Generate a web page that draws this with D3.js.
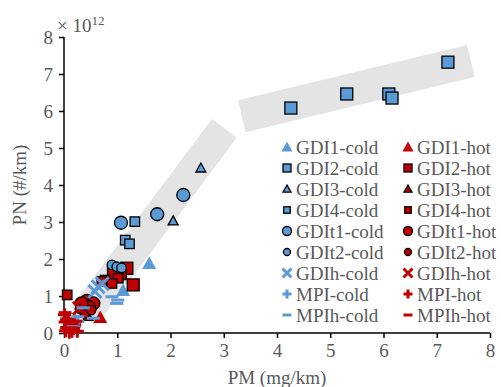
<!DOCTYPE html>
<html>
<head>
<meta charset="utf-8">
<script src="https://cdn.jsdelivr.net/npm/d3@7"></script>
<style>
  body { margin: 0; background: #fff; }
  svg text { font-family: "Liberation Serif", "Times New Roman", serif; fill: #595959; }
</style>
</head>
<body>
<svg id="chart" width="501" height="387"></svg>
<script>
// axis ticks
const xTicks = [0, 1, 2, 3, 4, 5, 6, 7, 8];
const yTicks = [0, 1, 2, 3, 4, 5, 6, 7, 8];

// series values, [PM mg/km, PN x1e12 #/km]
const gdi1Cold = [[1.60, 1.88], [1.11, 1.15]];
const gdi1Hot = [[0.68, 0.42]];
const gdi2Cold = [[4.26, 6.08], [5.31, 6.46], [6.10, 6.46], [6.16, 6.35], [7.21, 7.32]];
const gdi2Hot = [[1.18, 1.75], [1.30, 1.30], [0.93, 1.61]];
const gdi3Cold = [[2.57, 4.46], [2.05, 3.03]];
const gdi3Hot = [[0.45, 0.45]];
const gdi4Cold = [[1.33, 3.01], [1.15, 2.51], [1.23, 2.41]];
const gdi4Hot = [[0.06, 1.03], [1.08, 1.57], [1.02, 1.48], [0.77, 1.43], [0.90, 1.34], [0.71, 1.39]];
const gdit1Cold = [[2.24, 3.73], [1.75, 3.21], [1.07, 2.98]];
const gdit1Hot = [[0.43, 0.87], [0.55, 0.80], [0.46, 0.71], [0.33, 0.80]];
const gdit2Cold = [[0.90, 1.84], [0.99, 1.79], [1.08, 1.76]];
const gdit2Hot = [[0.39, 0.53], [0.51, 0.62], [0.30, 0.65]];
const gdihCold = [[0.64, 1.25], [0.58, 1.12], [0.72, 1.33]];
const gdihHot = [[0.29, 0.67], [0.12, 0.30]];
const mpiCold = [[0.26, 0.31], [0.12, 0.25], [0.05, 0.40], [0.20, 0.18]];
const mpiHot = [[0.01, 0.49], [0.05, 0.15], [0.15, 0.05], [0.20, 0.22], [0.10, 0.02],
  [0.02, 0.30], [0.08, 0.38], [0.18, 0.12], [0.25, 0.05], [0.03, 0.06]];
const mpihCold = [[0.90, 0.98], [1.01, 0.89], [0.99, 0.80], [0.36, 0.68], [0.55, 0.40], [0.26, 0.44], [0.17, 0.22]];
const mpihHot = [[0.05, 0.35], [0.15, 0.25], [0.08, 0.10], [0.02, 0.55], [0.22, 0.32]];

// trend bands (data units)
const band1 = [[0.36, 0.43], [3.01, 5.53]];
const band2 = [[3.34, 5.86], [7.64, 7.35]];

const blue = "#5b9bd5", red = "#c00000";

const series = [
  { name: "GDI1-cold", data: gdi1Cold, shape: "tri", size: 14, legSize: 11, fill: blue, stroke: false },
  { name: "GDI1-hot", data: gdi1Hot, shape: "tri", size: 14, legSize: 11, fill: red, stroke: false },
  { name: "GDI2-cold", data: gdi2Cold, shape: "sq", size: 12, legSize: 8, fill: blue, stroke: true },
  { name: "GDI2-hot", data: gdi2Hot, shape: "sq", size: 12, legSize: 8, fill: red, stroke: true },
  { name: "GDI3-cold", data: gdi3Cold, shape: "tri", size: 10, legSize: 8, fill: blue, stroke: true },
  { name: "GDI3-hot", data: gdi3Hot, shape: "tri", size: 10, legSize: 8, fill: red, stroke: true },
  { name: "GDI4-cold", data: gdi4Cold, shape: "sq", size: 9.5, legSize: 6.5, fill: blue, stroke: true },
  { name: "GDI4-hot", data: gdi4Hot, shape: "sq", size: 9.5, legSize: 6.5, fill: red, stroke: true },
  { name: "GDIt1-cold", data: gdit1Cold, shape: "circ", size: 13, legSize: 9, fill: blue, stroke: true },
  { name: "GDIt1-hot", data: gdit1Hot, shape: "circ", size: 13, legSize: 9, fill: red, stroke: true },
  { name: "GDIt2-cold", data: gdit2Cold, shape: "circ", size: 9.5, legSize: 7, fill: blue, stroke: true },
  { name: "GDIt2-hot", data: gdit2Hot, shape: "circ", size: 9.5, legSize: 7, fill: red, stroke: true },
  { name: "GDIh-cold", data: gdihCold, shape: "x", size: 13, legSize: 9, fill: blue },
  { name: "GDIh-hot", data: gdihHot, shape: "x", size: 13, legSize: 9, fill: red },
  { name: "MPI-cold", data: mpiCold, shape: "plus", size: 13, legSize: 9, fill: blue },
  { name: "MPI-hot", data: mpiHot, shape: "plus", size: 13, legSize: 9, fill: red },
  { name: "MPIh-cold", data: mpihCold, shape: "dash", size: 13, legSize: 9, fill: blue },
  { name: "MPIh-hot", data: mpihHot, shape: "dash", size: 13, legSize: 9, fill: red }
];

const svg = d3.select("#chart");
const x = d3.scaleLinear().domain([0, 8]).range([64, 490]);
const y = d3.scaleLinear().domain([0, 8]).range([333, 37]);

// bands
function bandPath(b, w) {
  const p0 = [x(b[0][0]), y(b[0][1])], p1 = [x(b[1][0]), y(b[1][1])];
  const dx = p1[0] - p0[0], dy = p1[1] - p0[1], len = Math.hypot(dx, dy);
  const nx = -dy / len * w / 2, ny = dx / len * w / 2;
  return "M" + [p0[0] + nx, p0[1] + ny] + "L" + [p1[0] + nx, p1[1] + ny] +
    "L" + [p1[0] - nx, p1[1] - ny] + "L" + [p0[0] - nx, p0[1] - ny] + "Z";
}
svg.append("path").attr("d", bandPath(band1, 31)).attr("fill", "#e4e4e4");
svg.append("path").attr("d", bandPath(band2, 33)).attr("fill", "#e4e4e4");

// axes
const yAxis = svg.append("g").attr("transform", "translate(64,0)")
  .call(d3.axisLeft(y).tickValues(yTicks).tickSize(5).tickPadding(6).tickFormat(d3.format("d")));
const xAxis = svg.append("g").attr("transform", "translate(0,333)")
  .call(d3.axisBottom(x).tickValues(xTicks).tickSize(5).tickPadding(6).tickFormat(d3.format("d")));
[xAxis, yAxis].forEach(a => {
  a.select(".domain").attr("stroke", "#000").attr("stroke-width", 1.5);
  a.selectAll(".tick line").attr("stroke", "#000").attr("stroke-width", 1.5);
  a.selectAll("text").attr("font-size", 19).attr("fill", "#595959")
    .style("font-family", "'Liberation Serif', serif");
});
yAxis.select(".domain").attr("d", "M0,333V37");
xAxis.select(".domain").attr("d", "M64,0H490");

// marker drawing
function marker(g, s, cx, cy, sz) {
  const h = sz / 2;
  const sw = s.stroke ? 1.3 : 0;
  if (s.shape === "tri") {
    g.append("path")
      .attr("d", `M${cx},${cy - h}L${cx + h},${cy + h * 0.8}L${cx - h},${cy + h * 0.8}Z`)
      .attr("fill", s.fill).attr("stroke", s.stroke ? "#000" : "none").attr("stroke-width", sw);
  } else if (s.shape === "sq") {
    g.append("rect").attr("x", cx - h).attr("y", cy - h).attr("width", sz).attr("height", sz)
      .attr("fill", s.fill).attr("stroke", "#000").attr("stroke-width", sw);
  } else if (s.shape === "circ") {
    g.append("circle").attr("cx", cx).attr("cy", cy).attr("r", h)
      .attr("fill", s.fill).attr("stroke", "#000").attr("stroke-width", sw);
  } else if (s.shape === "x") {
    g.append("path").attr("d", `M${cx - h},${cy - h}L${cx + h},${cy + h}M${cx + h},${cy - h}L${cx - h},${cy + h}`)
      .attr("stroke", s.fill).attr("stroke-width", 3).attr("fill", "none");
  } else if (s.shape === "plus") {
    g.append("path").attr("d", `M${cx - h},${cy}H${cx + h}M${cx},${cy - h}V${cy + h}`)
      .attr("stroke", s.fill).attr("stroke-width", 3).attr("fill", "none");
  } else if (s.shape === "dash") {
    g.append("path").attr("d", `M${cx - h},${cy}H${cx + h}`)
      .attr("stroke", s.fill).attr("stroke-width", 3).attr("fill", "none");
  }
}

// points
const plot = svg.append("g");
series.forEach(s => {
  const g = plot.append("g").attr("class", "series");
  s.data.forEach(d => marker(g, s, x(d[0]), y(d[1]), s.size));
});

// legend
const legend = svg.append("g");
series.forEach((s, i) => {
  const col = i % 2, row = Math.floor(i / 2);
  const mx = col === 0 ? 287 : 408, my = 147 + row * 21;
  marker(legend, s, mx, my, s.legSize);
  legend.append("text").attr("x", mx + 9).attr("y", my + 6.5)
    .attr("font-size", 19).text(s.name);
});

// axis titles
svg.append("text").attr("x", 277).attr("y", 384).attr("text-anchor", "middle")
  .attr("font-size", 19).text("PM (mg/km)");
svg.append("text").attr("transform", "translate(26,185) rotate(-90)").attr("text-anchor", "middle")
  .attr("font-size", 19).text("PN (#/km)");

// exponent label
const ex = svg.append("text").attr("x", 57).attr("y", 32).attr("font-size", 19);
ex.append("tspan").text("× 10");
ex.append("tspan").attr("font-size", 13).attr("dy", -7).text("12");
</script>
</body>
</html>
